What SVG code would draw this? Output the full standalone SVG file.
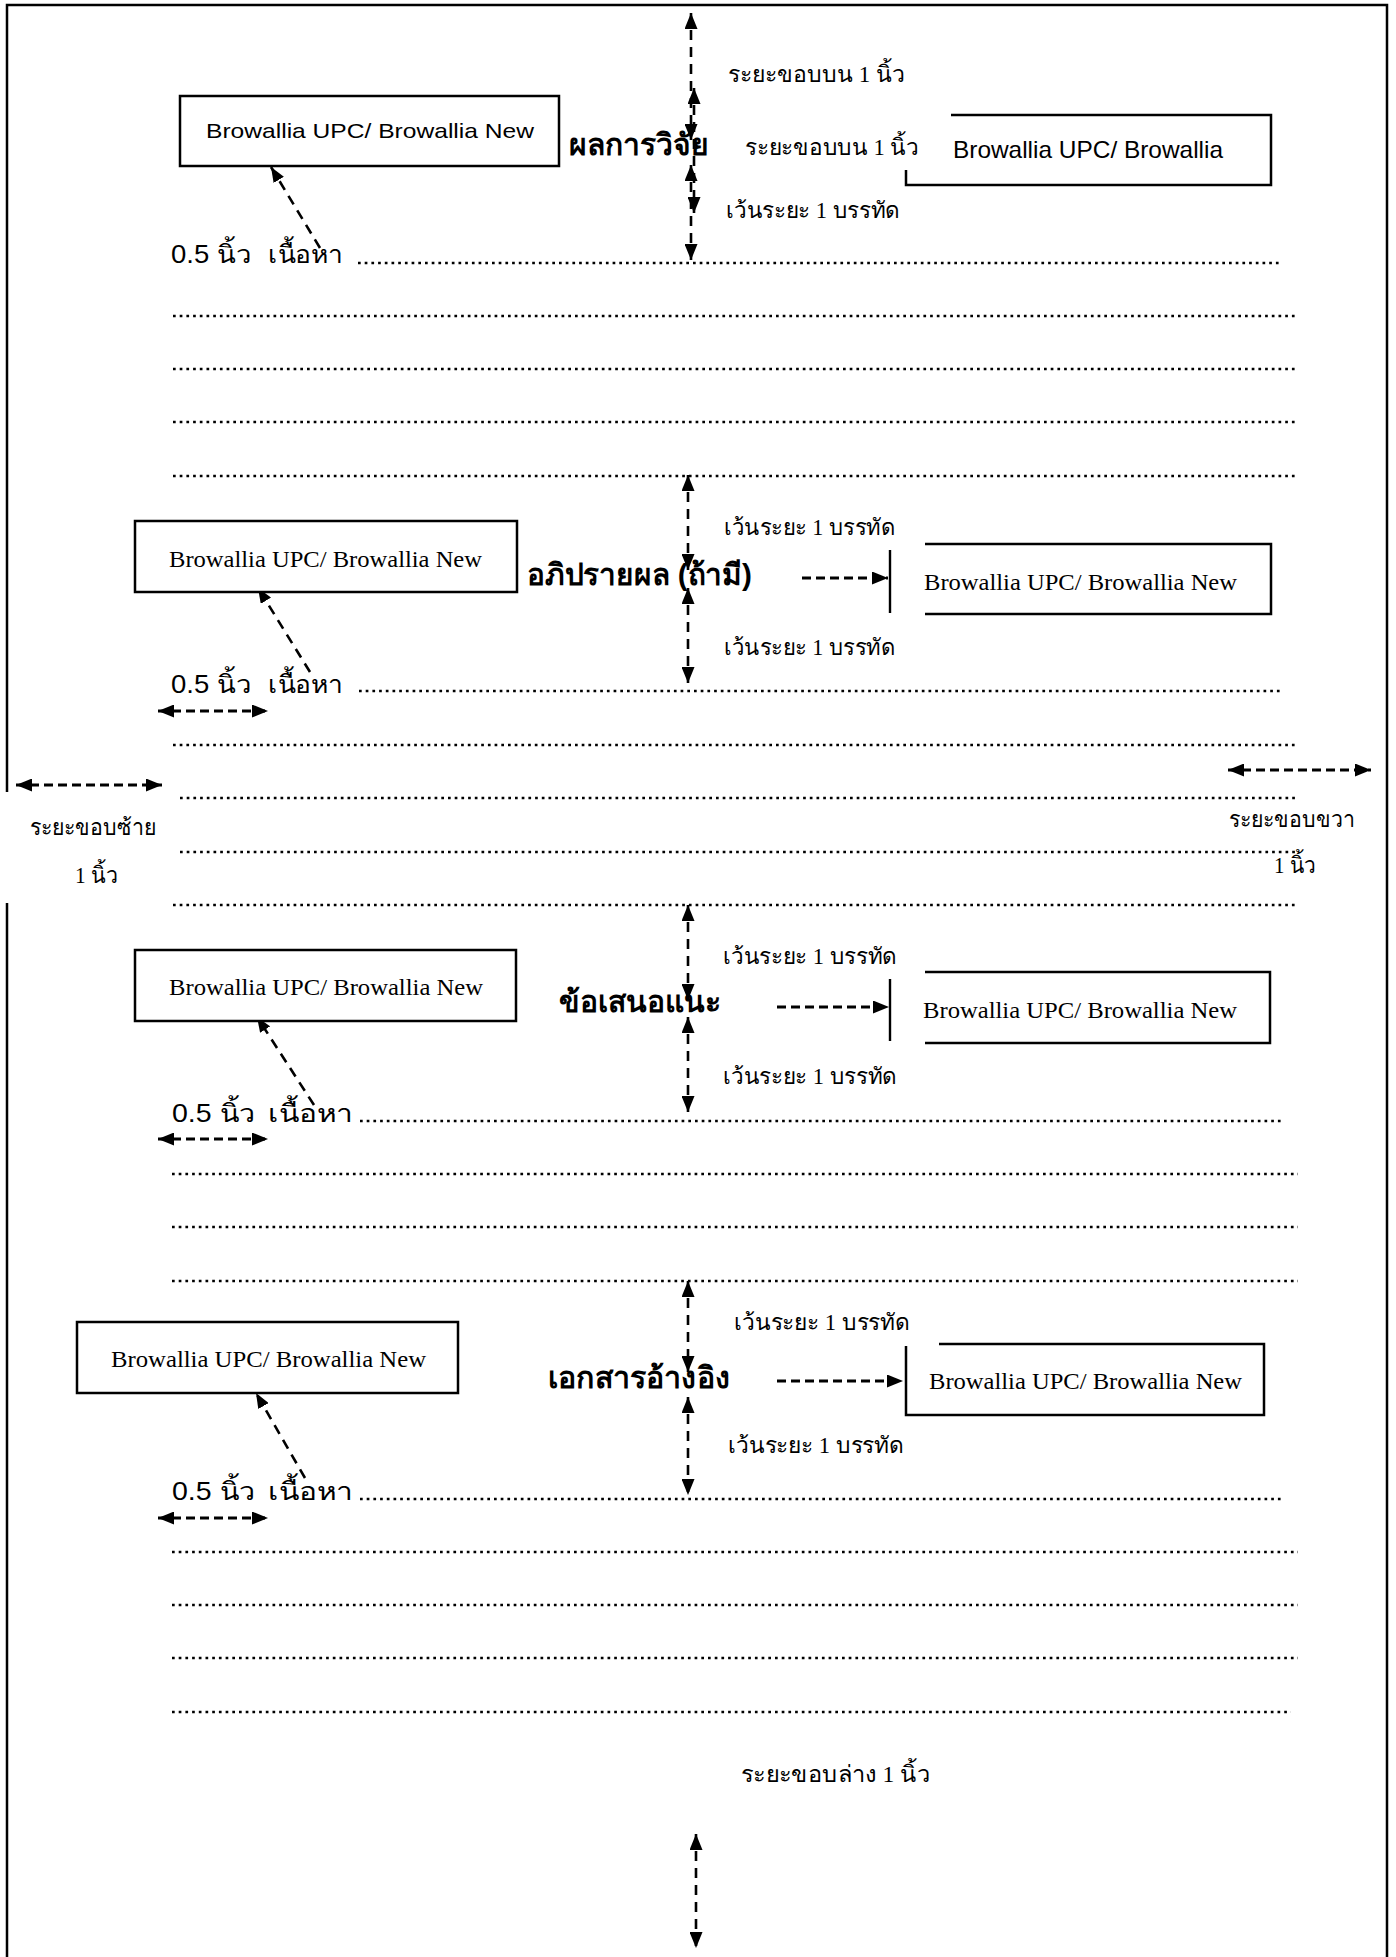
<svg xmlns="http://www.w3.org/2000/svg" width="1396" height="1957" viewBox="0 0 1396 1957">
<defs>
<style>
.bd{fill:none;stroke:#000;stroke-width:2.5}
.box{fill:#fff;stroke:#000;stroke-width:2.5}
.bx{fill:none;stroke:#000;stroke-width:2.5}
.dash{fill:none;stroke:#000;stroke-width:2.6;stroke-dasharray:10 7}
.hd{fill:none;stroke:#000;stroke-width:3;stroke-dasharray:9 5}
.dot{fill:none;stroke:#000;stroke-width:2.7;stroke-dasharray:2.7 4}
.bar{stroke:#000;stroke-width:2.4}
.sans{font-family:"Liberation Sans",Arial,sans-serif;fill:#000}
.serif{font-family:"Liberation Serif","Times New Roman",serif;fill:#000}
.en1{font-size:21px}
.en2{font-size:24px}
.th{font-family:"Liberation Serif","Noto Sans",serif;font-size:23px;fill:#000}
.thh{font-family:"Liberation Sans","Noto Sans",sans-serif;font-size:30px;font-weight:bold;fill:#000}
.body{font-family:"Liberation Sans","Noto Sans",sans-serif;font-size:25px;fill:#000}
</style>
<marker id="ah" viewBox="0 0 16 13" refX="16" refY="6.5" markerUnits="userSpaceOnUse" markerWidth="16" markerHeight="13" orient="auto-start-reverse"><path d="M0,0 L16,6.5 L0,13 z" fill="#000"/></marker>
<marker id="ahs" viewBox="0 0 15 12" refX="15" refY="6" markerUnits="userSpaceOnUse" markerWidth="15" markerHeight="12" orient="auto-start-reverse"><path d="M0,0 L15,6 L0,12 z" fill="#000"/></marker>
</defs>
<rect width="1396" height="1957" fill="#fff"/>

<g id="page-border">
<path class="bd" d="M7,1957 V903 M7,792 V5 H1387 V1957"/>
</g>

<g id="content-lines">
<line class="dot" x1="358" y1="263" x2="1280" y2="263"/>
<line class="dot" x1="173" y1="316" x2="1297" y2="316"/>
<line class="dot" x1="173" y1="369" x2="1297" y2="369"/>
<line class="dot" x1="173" y1="422" x2="1297" y2="422"/>
<line class="dot" x1="173" y1="476" x2="1297" y2="476"/>

<line class="dot" x1="359" y1="691" x2="1280" y2="691"/>
<line class="dot" x1="173" y1="745" x2="1297" y2="745"/>
<line class="dot" x1="180" y1="798" x2="1297" y2="798"/>
<line class="dot" x1="180" y1="852" x2="1297" y2="852"/>
<line class="dot" x1="173" y1="905" x2="1297" y2="905"/>

<line class="dot" x1="360" y1="1121" x2="1282" y2="1121"/>
<line class="dot" x1="172" y1="1174" x2="1298" y2="1174"/>
<line class="dot" x1="172" y1="1227" x2="1298" y2="1227"/>
<line class="dot" x1="172" y1="1281" x2="1298" y2="1281"/>

<line class="dot" x1="360" y1="1499" x2="1282" y2="1499"/>
<line class="dot" x1="172" y1="1552" x2="1298" y2="1552"/>
<line class="dot" x1="172" y1="1605" x2="1298" y2="1605"/>
<line class="dot" x1="172" y1="1658" x2="1298" y2="1658"/>
<line class="dot" x1="172" y1="1712" x2="1291" y2="1712"/>
</g>

<g id="connectors">
<!-- section 1 -->
<line class="dash" x1="691" y1="13" x2="691" y2="140" marker-start="url(#ah)" marker-end="url(#ah)"/>
<line class="dash" x1="694" y1="88" x2="694" y2="213" marker-start="url(#ah)" marker-end="url(#ah)"/>
<line class="dash" x1="691" y1="165" x2="691" y2="260" marker-start="url(#ah)" marker-end="url(#ah)"/>
<line class="dash" x1="320" y1="248" x2="271" y2="167" marker-end="url(#ahs)"/>
<!-- section 2 -->
<line class="dash" x1="688" y1="475" x2="688" y2="570" marker-start="url(#ah)" marker-end="url(#ah)"/>
<line class="dash" x1="688" y1="588" x2="688" y2="683" marker-start="url(#ah)" marker-end="url(#ah)"/>
<line class="hd" x1="802" y1="578" x2="888" y2="578" marker-end="url(#ah)"/>
<line class="dash" x1="310" y1="672" x2="258" y2="588" marker-end="url(#ahs)"/>
<line class="hd" x1="158" y1="711" x2="268" y2="711" marker-start="url(#ah)" marker-end="url(#ah)"/>
<line class="hd" x1="16" y1="785" x2="162" y2="785" marker-start="url(#ah)" marker-end="url(#ah)"/>
<line class="hd" x1="1228" y1="770" x2="1371" y2="770" marker-start="url(#ah)" marker-end="url(#ah)"/>
<!-- section 3 -->
<line class="dash" x1="688" y1="905" x2="688" y2="1000" marker-start="url(#ah)" marker-end="url(#ah)"/>
<line class="dash" x1="688" y1="1017" x2="688" y2="1112" marker-start="url(#ah)" marker-end="url(#ah)"/>
<line class="hd" x1="777" y1="1007" x2="889" y2="1007" marker-end="url(#ah)"/>
<line class="dash" x1="314" y1="1105" x2="257" y2="1017" marker-end="url(#ahs)"/>
<line class="hd" x1="158" y1="1139" x2="268" y2="1139" marker-start="url(#ah)" marker-end="url(#ah)"/>
<!-- section 4 -->
<line class="dash" x1="688" y1="1281" x2="688" y2="1372" marker-start="url(#ah)" marker-end="url(#ah)"/>
<line class="dash" x1="688" y1="1397" x2="688" y2="1495" marker-start="url(#ah)" marker-end="url(#ah)"/>
<line class="hd" x1="777" y1="1381" x2="903" y2="1381" marker-end="url(#ah)"/>
<line class="dash" x1="305" y1="1478" x2="256" y2="1393" marker-end="url(#ahs)"/>
<line class="hd" x1="158" y1="1518" x2="268" y2="1518" marker-start="url(#ah)" marker-end="url(#ah)"/>
<!-- bottom margin -->
<line class="dash" x1="696" y1="1834" x2="696" y2="1948" marker-start="url(#ah)" marker-end="url(#ah)"/>
</g>

<g id="section1">
<g id="box1"><rect class="box" x="180" y="96" width="379" height="70"/><text class="sans en1" x="206" y="138" textLength="328" lengthAdjust="spacingAndGlyphs">Browallia UPC/ Browallia New</text></g>
<g id="heading1"><text class="thh" x="569" y="155" textLength="140" lengthAdjust="spacingAndGlyphs">ผลการวิจัย</text></g>
<g id="box2"><path class="bx" d="M951,115 H1271 V185 H906 V170"/><text class="sans en2" x="953" y="158" textLength="270" lengthAdjust="spacingAndGlyphs">Browallia UPC/ Browallia</text></g>
<g id="label-top1"><text class="th" x="728" y="82" textLength="177" lengthAdjust="spacingAndGlyphs">ระยะขอบบน 1 นิ้ว</text></g>
<g id="label-top2"><text class="th" x="745" y="155" textLength="174" lengthAdjust="spacingAndGlyphs">ระยะขอบบน 1 นิ้ว</text></g>
<g id="label-space1"><text class="th" x="726" y="218" textLength="174" lengthAdjust="spacingAndGlyphs">เว้นระยะ 1 บรรทัด</text></g>
<g id="indent1"><text class="body" x="171" y="263" textLength="80" lengthAdjust="spacingAndGlyphs">0.5 นิ้ว</text><text class="body" x="268" y="263" textLength="75" lengthAdjust="spacingAndGlyphs">เนื้อหา</text></g>
</g>

<g id="section2">
<g id="box3"><rect class="box" x="135" y="521" width="382" height="71"/><text class="serif en2" x="169" y="567" textLength="313" lengthAdjust="spacingAndGlyphs">Browallia UPC/ Browallia New</text></g>
<g id="heading2"><text class="thh" x="527" y="585" textLength="225" lengthAdjust="spacingAndGlyphs">อภิปรายผล (ถ้ามี)</text></g>
<g id="box4"><line class="bar" x1="890" y1="550" x2="890" y2="613"/><path class="bx" d="M925,544 H1271 V614 H925"/><text class="serif en2" x="924" y="590" textLength="313" lengthAdjust="spacingAndGlyphs">Browallia UPC/ Browallia New</text></g>
<g id="label-space2a"><text class="th" x="724" y="535" textLength="171" lengthAdjust="spacingAndGlyphs">เว้นระยะ 1 บรรทัด</text></g>
<g id="label-space2b"><text class="th" x="724" y="655" textLength="171" lengthAdjust="spacingAndGlyphs">เว้นระยะ 1 บรรทัด</text></g>
<g id="indent2"><text class="body" x="171" y="693" textLength="80" lengthAdjust="spacingAndGlyphs">0.5 นิ้ว</text><text class="body" x="268" y="693" textLength="75" lengthAdjust="spacingAndGlyphs">เนื้อหา</text></g>
<g id="label-left"><text class="th" x="30" y="835" textLength="126" lengthAdjust="spacingAndGlyphs">ระยะขอบซ้าย</text><text class="th" x="75" y="883" textLength="43" lengthAdjust="spacingAndGlyphs">1 นิ้ว</text></g>
<g id="label-right"><text class="th" x="1229" y="827" textLength="126" lengthAdjust="spacingAndGlyphs">ระยะขอบขวา</text><text class="th" x="1274" y="873" textLength="42" lengthAdjust="spacingAndGlyphs">1 นิ้ว</text></g>
</g>

<g id="section3">
<g id="box5"><rect class="box" x="135" y="950" width="381" height="71"/><text class="serif en2" x="169" y="995" textLength="314" lengthAdjust="spacingAndGlyphs">Browallia UPC/ Browallia New</text></g>
<g id="heading3"><text class="thh" x="559" y="1012" textLength="162" lengthAdjust="spacingAndGlyphs">ข้อเสนอแนะ</text></g>
<g id="box6"><line class="bar" x1="890" y1="979" x2="890" y2="1041"/><path class="bx" d="M925,972 H1270 V1043 H925"/><text class="serif en2" x="923" y="1018" textLength="314" lengthAdjust="spacingAndGlyphs">Browallia UPC/ Browallia New</text></g>
<g id="label-space3a"><text class="th" x="723" y="964" textLength="174" lengthAdjust="spacingAndGlyphs">เว้นระยะ 1 บรรทัด</text></g>
<g id="label-space3b"><text class="th" x="723" y="1084" textLength="174" lengthAdjust="spacingAndGlyphs">เว้นระยะ 1 บรรทัด</text></g>
<g id="indent3"><text class="body" x="172" y="1122" textLength="83" lengthAdjust="spacingAndGlyphs">0.5 นิ้ว</text><text class="body" x="268" y="1122" textLength="85" lengthAdjust="spacingAndGlyphs">เนื้อหา</text></g>
</g>

<g id="section4">
<g id="box7"><rect class="box" x="77" y="1322" width="381" height="71"/><text class="serif en2" x="111" y="1367" textLength="315" lengthAdjust="spacingAndGlyphs">Browallia UPC/ Browallia New</text></g>
<g id="heading4"><text class="thh" x="548" y="1388" textLength="182" lengthAdjust="spacingAndGlyphs">เอกสารอ้างอิง</text></g>
<g id="box8"><path class="bx" d="M906,1346 V1415 H1264 V1344 H939"/><text class="serif en2" x="929" y="1389" textLength="313" lengthAdjust="spacingAndGlyphs">Browallia UPC/ Browallia New</text></g>
<g id="label-space4a"><text class="th" x="734" y="1330" textLength="176" lengthAdjust="spacingAndGlyphs">เว้นระยะ 1 บรรทัด</text></g>
<g id="label-space4b"><text class="th" x="728" y="1453" textLength="176" lengthAdjust="spacingAndGlyphs">เว้นระยะ 1 บรรทัด</text></g>
<g id="indent4"><text class="body" x="172" y="1500" textLength="83" lengthAdjust="spacingAndGlyphs">0.5 นิ้ว</text><text class="body" x="268" y="1500" textLength="85" lengthAdjust="spacingAndGlyphs">เนื้อหา</text></g>
</g>

<g id="bottom-margin">
<text class="th" x="741" y="1782" textLength="189" lengthAdjust="spacingAndGlyphs">ระยะขอบล่าง 1 นิ้ว</text>
</g>
</svg>
